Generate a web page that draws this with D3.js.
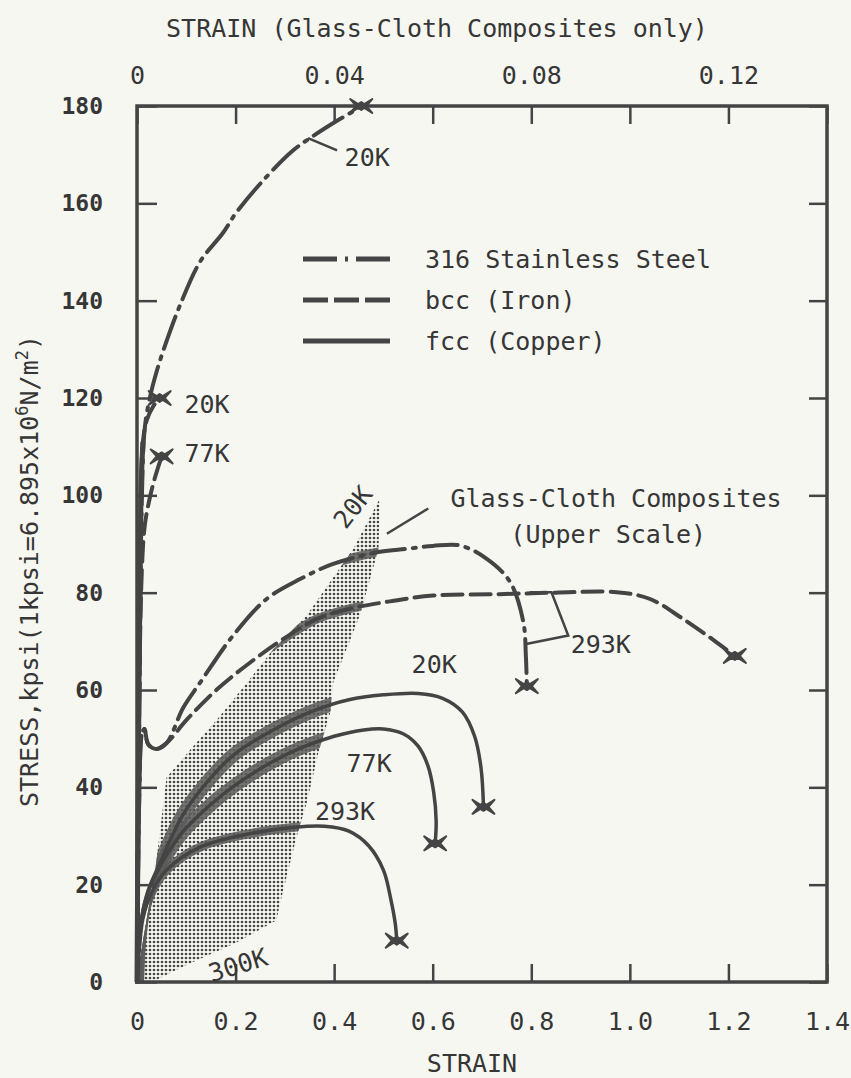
<!DOCTYPE html>
<html>
<head>
<meta charset="utf-8">
<script src="https://cdn.jsdelivr.net/npm/d3@7"></script>
<style>
  html, body { margin: 0; padding: 0; background: #f7f7f2; }
  svg text { font-family: "DejaVu Sans Mono", monospace; fill: #363636; }
</style>
</head>
<body>
<svg id="chart" width="851" height="1078"></svg>
<script>
// ---- data (strain on lower scale, stress in kpsi) ----
const xTicks = [0, 0.2, 0.4, 0.6, 0.8, 1.0, 1.2, 1.4];
const xTopTicks = [0, 0.02, 0.04, 0.06, 0.08, 0.10, 0.12, 0.14];
const xTopLabels = [0, 0.04, 0.08, 0.12];
const yTicks = [0, 20, 40, 60, 80, 100, 120, 140, 160, 180];

const ssAt20K = [[0,0],[0.005,60],[0.01,100],[0.016,114],[0.026,120],[0.04,125.5],[0.06,131.7],[0.087,139],[0.128,148],[0.175,154],[0.2,157.9],[0.256,164.7],[0.317,170.9],[0.36,174],[0.4,176.6],[0.44,179],[0.455,180]];
const ssAt293K = [[0,0],[0.005,40],[0.01,51],[0.015,52],[0.023,48.8],[0.04,47.9],[0.06,49.1],[0.094,56.4],[0.128,61.5],[0.195,71.2],[0.263,78.7],[0.331,82.8],[0.398,85.9],[0.493,88.4],[0.547,89],[0.6,89.6],[0.655,89.7],[0.709,87],[0.757,82.2],[0.784,73.9],[0.789,67],[0.791,60.8]];

const bccAt20K = [[0,0],[0.004,60],[0.008,100],[0.012,111],[0.02,115.5],[0.033,118.3],[0.046,120]];
const bccAt77K = [[0,0],[0.004,55],[0.01,85],[0.016,94],[0.026,99.5],[0.036,103.5],[0.05,108]];
const bccAt293K = [[0,0],[0.005,40],[0.01,51],[0.015,52],[0.023,48.8],[0.04,47.9],[0.06,49.1],[0.101,53.9],[0.162,60.1],[0.229,65.6],[0.297,70.5],[0.365,74.6],[0.432,76.7],[0.5,78],[0.601,79.4],[0.736,79.7],[0.85,80],[0.973,80.1],[1.041,78.7],[1.108,74.6],[1.176,69.8],[1.213,67]];

const fccAt20K = [[0,0],[0.005,10],[0.02,18],[0.047,24.5],[0.094,34.5],[0.15,42],[0.2,47],[0.28,52],[0.36,55.8],[0.43,58],[0.5,59],[0.57,59.3],[0.62,58.3],[0.66,55.5],[0.685,50.5],[0.698,44],[0.703,36]];
const fccAt77K = [[0,0],[0.005,9],[0.015,16],[0.04,22.5],[0.09,30.5],[0.15,36.5],[0.2,40.5],[0.27,45],[0.33,48],[0.4,50.5],[0.46,51.8],[0.5,52],[0.54,51],[0.57,48.5],[0.59,44.5],[0.602,39],[0.607,33],[0.605,28.5]];
const fccAt293K = [[0,0],[0.005,7],[0.012,13],[0.03,18.5],[0.06,23],[0.13,27.8],[0.23,30.5],[0.32,31.8],[0.38,32],[0.43,31],[0.47,28],[0.5,23],[0.515,17],[0.524,12],[0.527,8.5]];

// glass-cloth composites band, strain on the UPPER scale
const glassBand = [[0,0],[0.0013,9],[0.0037,23],[0.006,42],[0.0108,47.7],[0.0168,54.6],[0.0223,61.5],[0.0277,68.4],[0.0344,75.3],[0.0439,89],[0.0493,99.4],[0.049,89],[0.0452,75.3],[0.0398,61.5],[0.0392,55.3],[0.0368,47.1],[0.0344,36.7],[0.0324,29.9],[0.0307,23],[0.029,16.1],[0.0283,12.7],[0.02,8],[0.01,3.5],[0.003,0]];

const legendNames = ["316 Stainless Steel", "bcc (Iron)", "fcc (Copper)"];

// ---- layout ----
const svg = d3.select("#chart");
const x = d3.scaleLinear().domain([0, 1.4]).range([137, 827]);
const xTop = d3.scaleLinear().domain([0, 0.14]).range([137, 827]);
const y = d3.scaleLinear().domain([0, 180]).range([982, 106]);

const ink = "#444";
const styles = {
  ss:  { dash: "34,8,3,8", w: 4 },
  bcc: { dash: "20,8", w: 4 },
  fcc: { dash: null, w: 3.5 }
};

const curves = [
  { pts: ssAt20K, kind: "ss" },
  { pts: ssAt293K, kind: "ss" },
  { pts: bccAt20K, kind: "bcc" },
  { pts: bccAt77K, kind: "bcc" },
  { pts: bccAt293K, kind: "bcc" },
  { pts: fccAt20K, kind: "fcc" },
  { pts: fccAt77K, kind: "fcc" },
  { pts: fccAt293K, kind: "fcc" }
];

const line = d3.line()
  .x(d => x(d[0]))
  .y(d => y(d[1]))
  .curve(d3.curveCatmullRom.alpha(0.5));

svg.append("rect").attr("width", 851).attr("height", 1078).attr("fill", "#f7f7f2");

const defs = svg.append("defs");
const pat = defs.append("pattern")
  .attr("id", "stipple")
  .attr("patternUnits", "userSpaceOnUse")
  .attr("width", 4).attr("height", 4);
pat.append("circle").attr("cx", 2).attr("cy", 2).attr("r", 1.35).attr("fill", "#444");

const bandPath = d3.line().x(d => xTop(d[0])).y(d => y(d[1]))(glassBand) + "Z";
defs.append("clipPath").attr("id", "bandClip").append("path").attr("d", bandPath);

// stippled band
svg.append("path")
  .attr("d", bandPath)
  .attr("fill", "url(#stipple)");

// heavy smear of the curves where they cross the band
svg.append("g")
  .attr("clip-path", "url(#bandClip)")
  .selectAll("path")
  .data(curves.filter(c => c.pts !== ssAt20K))
  .enter()
  .append("path")
  .attr("d", d => line(d.pts))
  .attr("fill", "none")
  .attr("stroke", "#5a5a5a")
  .attr("stroke-opacity", 0.85)
  .attr("stroke-width", d => d.kind === "fcc" && d.pts !== fccAt293K ? 14 : 9);

// the curves crowd together along the stress axis
svg.append("path")
  .attr("d", line(bccAt20K.slice(0, 4)))
  .attr("fill", "none").attr("stroke", ink).attr("stroke-width", 5);

// curves
svg.append("g")
  .selectAll("path")
  .data(curves)
  .enter()
  .append("path")
  .attr("d", d => line(d.pts))
  .attr("fill", "none")
  .attr("stroke", ink)
  .attr("stroke-width", d => styles[d.kind].w)
  .attr("stroke-linecap", "round")
  .attr("stroke-dasharray", d => styles[d.kind].dash);

// fracture marks (bow-tie crosses)
const starPath = "M-11,-7L-3,-2L0,-4L3,-2L11,-7L5,0L11,7L3,2L0,4L-3,2L-11,7L-5,0Z";
svg.append("g")
  .selectAll("path")
  .data(curves)
  .enter()
  .append("path")
  .attr("d", starPath)
  .attr("transform", d => {
    const p = d.pts[d.pts.length - 1];
    return `translate(${x(p[0])},${y(p[1])})`;
  })
  .attr("fill", ink)
  .attr("stroke", ink)
  .attr("stroke-width", 2)
  .attr("stroke-linejoin", "round");

// frame
svg.append("rect")
  .attr("x", x(0)).attr("y", y(180))
  .attr("width", x(1.4) - x(0)).attr("height", y(0) - y(180))
  .attr("fill", "none").attr("stroke", "#444").attr("stroke-width", 3.5);

// axes
const styleAxis = g => {
  g.select(".domain").remove();
  g.selectAll(".tick line").attr("stroke", "#444").attr("stroke-width", 2.5);
  g.selectAll(".tick text").attr("fill", "#363636");
};

svg.append("g")
  .attr("transform", `translate(0,${y(0)})`)
  .call(d3.axisBottom(x).tickValues(xTicks).tickSize(-18).tickPadding(30)
    .tickFormat(d => d === 0 ? "0" : d3.format(".1f")(d)))
  .call(styleAxis)
  .selectAll("text")
  .attr("font-family", "DejaVu Sans Mono").attr("font-size", 25);

svg.append("g")
  .attr("transform", `translate(0,${y(180)})`)
  .call(d3.axisTop(xTop).tickValues(xTopTicks).tickSize(-18).tickPadding(22)
    .tickFormat(d => xTopLabels.some(v => Math.abs(v - d) < 1e-9) ? (d === 0 ? "0" : d3.format(".2f")(d)) : ""))
  .call(styleAxis)
  .selectAll("text")
  .attr("font-family", "DejaVu Sans Mono").attr("font-size", 25);

svg.append("g")
  .attr("transform", `translate(${x(0)},0)`)
  .call(d3.axisLeft(y).tickValues(yTicks).tickSize(-20).tickPadding(34))
  .call(styleAxis)
  .selectAll("text")
  .attr("font-family", "Liberation Sans").attr("font-weight", "bold").attr("font-size", 23)
  .attr("fill", "#454545");

svg.append("g")
  .attr("transform", `translate(${x(1.4)},0)`)
  .call(d3.axisRight(y).tickValues(yTicks).tickSize(-18).tickFormat(""))
  .call(styleAxis);

// axis titles
svg.append("text")
  .attr("x", 437).attr("y", 37)
  .attr("text-anchor", "middle").attr("font-size", 25)
  .text("STRAIN (Glass-Cloth Composites only)");

svg.append("text")
  .attr("x", 472).attr("y", 1072)
  .attr("text-anchor", "middle").attr("font-size", 25)
  .text("STRAIN");

const yTitle = svg.append("text")
  .attr("transform", "translate(38,571) rotate(-90)")
  .attr("text-anchor", "middle").attr("font-size", 25);
yTitle.append("tspan").text("STRESS,kpsi(1kpsi=6.895x10");
yTitle.append("tspan").attr("dy", -10).attr("font-size", 17).text("6");
yTitle.append("tspan").attr("dy", 10).text("N/m");
yTitle.append("tspan").attr("dy", -10).attr("font-size", 17).text("2");
yTitle.append("tspan").attr("dy", 10).text(")");

// legend
const legendKinds = ["ss", "bcc", "fcc"];
const legendDash = { ss: "34,8,3,8", bcc: "25,6", fcc: null };
const leg = svg.append("g")
  .selectAll("g")
  .data(legendNames)
  .enter()
  .append("g")
  .attr("transform", (d, i) => `translate(303,${259 + i * 41})`);
leg.append("line")
  .attr("x1", 0).attr("x2", 87)
  .attr("stroke", ink).attr("stroke-width", 5)
  .attr("stroke-dasharray", (d, i) => legendDash[legendKinds[i]]);
leg.append("text")
  .attr("x", 122).attr("dy", "0.35em")
  .attr("font-size", 25)
  .text(d => d);

// leader lines
const leaders = [
  [[0.347,173.4],[0.406,170.9]],
  [[0.591,97.3],[0.507,92.1]],
  [[0.787,69.4],[0.875,71.2],[0.841,80.1],[0.797,80.1]]
];
svg.append("g")
  .selectAll("path")
  .data(leaders)
  .enter()
  .append("path")
  .attr("d", d3.line().x(d => x(d[0])).y(d => y(d[1])))
  .attr("fill", "none").attr("stroke", ink).attr("stroke-width", 2.5);

// annotations
const notes = [
  { text: "20K", at: [0.467, 169.5] },
  { text: "20K", at: [0.142, 118.7] },
  { text: "77K", at: [0.142, 108.6] },
  { text: "20K", at: [0.438, 97.6], rot: -52 },
  { text: "Glass-Cloth Composites", at: [0.972, 99.3] },
  { text: "(Upper Scale)", at: [0.956, 92.1] },
  { text: "293K", at: [0.941, 69.4] },
  { text: "20K", at: [0.603, 65.2] },
  { text: "77K", at: [0.471, 45] },
  { text: "293K", at: [0.422, 35.1] },
  { text: "300K", at: [0.205, 3.5], rot: -17 }
];
svg.append("g")
  .selectAll("text")
  .data(notes)
  .enter()
  .append("text")
  .attr("transform", d => `translate(${x(d.at[0])},${y(d.at[1])}) rotate(${d.rot || 0})`)
  .attr("text-anchor", "middle")
  .attr("dy", "0.35em")
  .attr("font-size", 25)
  .text(d => d.text);
</script>
</body>
</html>
